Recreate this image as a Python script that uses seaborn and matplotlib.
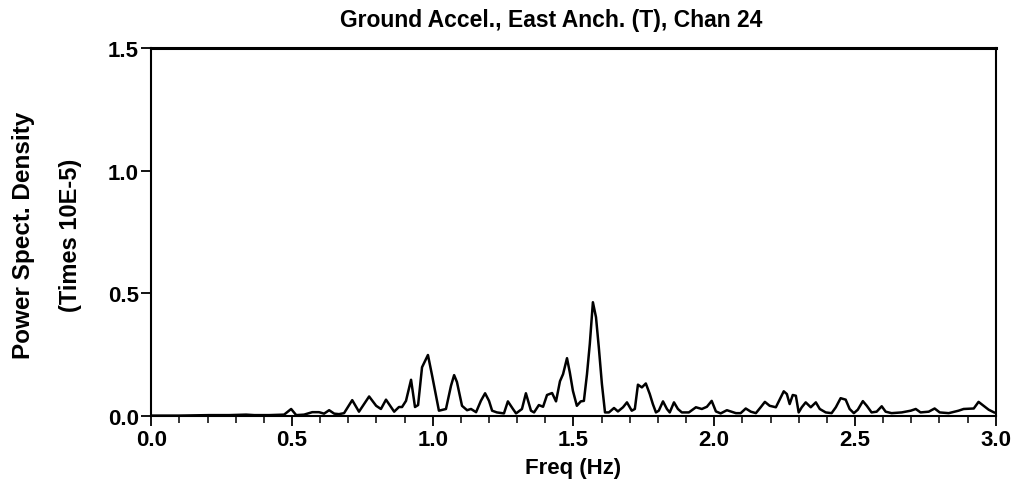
import matplotlib
matplotlib.use("Agg")
import matplotlib.pyplot as plt
import seaborn as sns
import pandas as pd
from matplotlib.ticker import MultipleLocator

freq_hz = [
    0.000, 0.099, 0.206, 0.277, 0.337, 0.366, 0.419, 0.472, 0.497, 0.515,
    0.543, 0.572, 0.596, 0.614, 0.632, 0.650, 0.667, 0.685, 0.714, 0.738,
    0.774, 0.799, 0.816, 0.834, 0.863, 0.880, 0.891, 0.905, 0.923, 0.937,
    0.948, 0.962, 0.983, 0.998, 1.022, 1.047, 1.065, 1.076, 1.086, 1.104,
    1.122, 1.136, 1.154, 1.171, 1.186, 1.200, 1.211, 1.228, 1.253, 1.267,
    1.285, 1.296, 1.317, 1.331, 1.349, 1.360, 1.377, 1.392, 1.406, 1.424,
    1.438, 1.452, 1.463, 1.477, 1.487, 1.498, 1.512, 1.526, 1.537, 1.548,
    1.558, 1.569, 1.580, 1.590, 1.601, 1.612, 1.626, 1.644, 1.658, 1.676,
    1.690, 1.707, 1.718, 1.729, 1.743, 1.757, 1.771, 1.782, 1.793, 1.803,
    1.818, 1.832, 1.842, 1.857, 1.871, 1.885, 1.910, 1.935, 1.956, 1.974,
    1.991, 2.006, 2.023, 2.045, 2.077, 2.094, 2.112, 2.130, 2.148, 2.165,
    2.180, 2.197, 2.219, 2.233, 2.247, 2.258, 2.268, 2.279, 2.290, 2.300,
    2.311, 2.325, 2.343, 2.361, 2.375, 2.396, 2.417, 2.432, 2.449, 2.467,
    2.481, 2.496, 2.510, 2.528, 2.542, 2.559, 2.577, 2.595, 2.609, 2.630,
    2.666, 2.698, 2.716, 2.733, 2.762, 2.783, 2.801, 2.833, 2.868, 2.886,
    2.922, 2.939, 2.957, 2.975, 2.989, 2.996,
]

psd_times_1e5 = [
    0.002, 0.002, 0.004, 0.004, 0.006, 0.004, 0.004, 0.006, 0.029, 0.004,
    0.006, 0.016, 0.016, 0.010, 0.024, 0.010, 0.008, 0.012, 0.065, 0.018,
    0.080, 0.042, 0.029, 0.067, 0.018, 0.037, 0.037, 0.062, 0.148, 0.037,
    0.045, 0.199, 0.249, 0.164, 0.022, 0.029, 0.124, 0.167, 0.139, 0.042,
    0.024, 0.029, 0.016, 0.062, 0.093, 0.062, 0.022, 0.015, 0.011, 0.060,
    0.029, 0.011, 0.029, 0.093, 0.022, 0.015, 0.045, 0.038, 0.086, 0.094,
    0.060, 0.142, 0.171, 0.236, 0.178, 0.103, 0.042, 0.060, 0.062, 0.171,
    0.294, 0.464, 0.403, 0.280, 0.131, 0.015, 0.015, 0.033, 0.019, 0.036,
    0.056, 0.022, 0.029, 0.128, 0.117, 0.133, 0.090, 0.049, 0.015, 0.022,
    0.060, 0.029, 0.015, 0.056, 0.029, 0.015, 0.015, 0.036, 0.029, 0.038,
    0.062, 0.019, 0.011, 0.024, 0.012, 0.012, 0.031, 0.018, 0.012, 0.036,
    0.058, 0.042, 0.036, 0.069, 0.101, 0.090, 0.049, 0.086, 0.083, 0.015,
    0.036, 0.056, 0.036, 0.056, 0.029, 0.015, 0.012, 0.036, 0.073, 0.067,
    0.029, 0.012, 0.026, 0.061, 0.042, 0.015, 0.018, 0.040, 0.018, 0.012,
    0.015, 0.022, 0.029, 0.015, 0.018, 0.031, 0.015, 0.012, 0.022, 0.029,
    0.031, 0.058, 0.042, 0.026, 0.018, 0.014,
]

x_ticks = [0.0, 0.5, 1.0, 1.5, 2.0, 2.5, 3.0]
x_tick_labels = ["0.0", "0.5", "1.0", "1.5", "2.0", "2.5", "3.0"]
y_ticks = [0.0, 0.5, 1.0, 1.5]
y_tick_labels = ["0.0", "0.5", "1.0", "1.5"]

title_text = "Ground Accel., East Anch. (T), Chan 24"
x_label = "Freq (Hz)"
y_label_1 = "Power Spect. Density"
y_label_2 = "(Times 10E-5)"

sns.set_theme(style="ticks")
plt.rcParams["font.family"] = ["Liberation Sans", "DejaVu Sans"]
plt.rcParams["font.weight"] = "bold"
for key in ["text.color", "axes.labelcolor", "xtick.color", "ytick.color",
            "axes.edgecolor"]:
    plt.rcParams[key] = "black"

df = pd.DataFrame({"freq": freq_hz, "psd": psd_times_1e5})

fig = plt.figure(figsize=(10.15, 4.85), dpi=100)
ax = fig.add_axes([0.149, 0.140, 0.832, 0.759])

sns.lineplot(data=df, x="freq", y="psd", ax=ax, color="black",
             linewidth=1.8, estimator=None, sort=False)

ax.set_xlim(0.0, 3.0)
ax.set_ylim(0.0, 1.5)
ax.set_xticks(x_ticks)
ax.set_xticklabels(x_tick_labels, fontsize=16, fontweight="bold")
ax.set_yticks(y_ticks)
ax.set_yticklabels(y_tick_labels, fontsize=16, fontweight="bold")
ax.xaxis.set_minor_locator(MultipleLocator(0.1))
ax.tick_params(axis="both", which="major", direction="out", length=7,
               width=1.3, color="black", labelcolor="black", pad=2)
ax.tick_params(axis="x", which="minor", direction="out", length=5,
               width=1.1, color="black")
ax.set_xlabel(x_label, fontsize=16, fontweight="bold", labelpad=5,
              color="black")
ax.set_ylabel("")

for side in ["left", "right", "bottom", "top"]:
    ax.spines[side].set_visible(True)
    ax.spines[side].set_color("black")
    ax.spines[side].set_linewidth(1.5)
ax.spines["top"].set_linewidth(2.2)

fig.text(0.543, 0.958, title_text, ha="center", va="center",
         fontsize=16.5, fontweight="bold", color="black")
fig.text(0.023, 0.515, y_label_1, ha="center", va="center", rotation=90,
         fontsize=17.5, fontweight="bold", color="black")
fig.text(0.069, 0.515, y_label_2, ha="center", va="center", rotation=90,
         fontsize=17, fontweight="bold", color="black")

fig.savefig("out.png", dpi=100, facecolor="white")
